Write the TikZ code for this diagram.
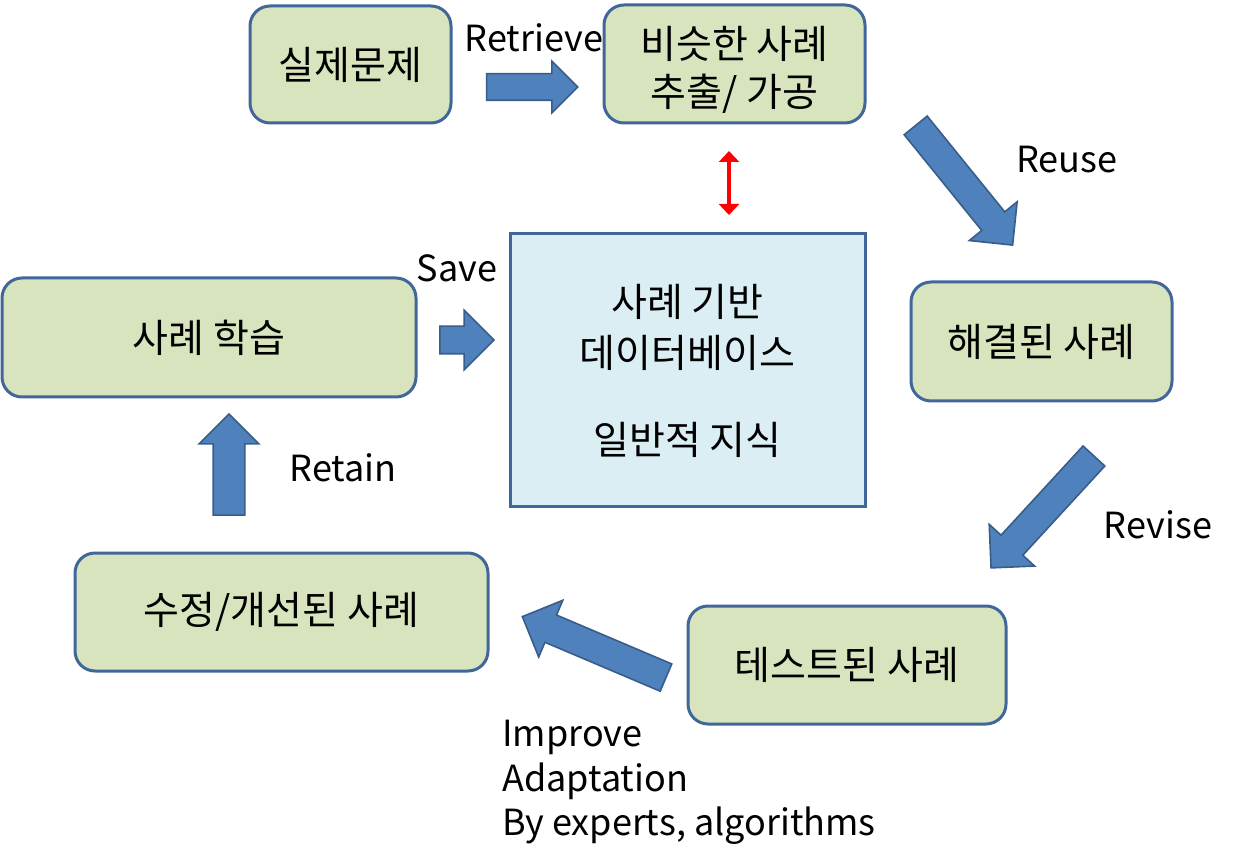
\documentclass[tikz,border=0pt]{standalone}
\usepackage{fontspec}
\setmainfont{Noto Sans CJK KR}
\usetikzlibrary{shapes.arrows,arrows.meta}
\definecolor{gfill}{HTML}{D7E4BD}
\definecolor{gline}{HTML}{41679A}
\definecolor{bfill}{HTML}{DBEEF4}
\definecolor{afill}{HTML}{4F81BD}
\definecolor{aline}{HTML}{385D8A}
\tikzset{
  gbox/.style={draw=gline, fill=gfill, line width=3pt, rounded corners=20pt, align=center, inner sep=0pt},
  dbbox/.style={draw=gline, fill=bfill, line width=3pt, align=center, inner sep=0pt},
  blk/.style={single arrow, draw=aline, fill=afill, line width=1.6pt, inner xsep=0pt, single arrow head indent=0pt},
  lbl/.style={inner sep=0pt, font=\fontsize{36}{45}\selectfont},
  txt/.style={font=\fontsize{39}{50}\selectfont}
}
\begin{document}
\begin{tikzpicture}[x=1pt,y=-1pt]
\useasboundingbox (0,0) rectangle (1235,866);
% boxes
\node[gbox, txt, minimum width=201pt, minimum height=117pt] (real) at (350.5,64.5) {실제문제};
\node[gbox, txt, minimum width=261pt, minimum height=118pt, font=\fontsize{39}{45}\selectfont] (sim) at (734.5,64) {\raisebox{-6pt}[\height][\depth]{\shortstack{비슷한 사례\\[9pt]추출/ 가공}}};
\node[gbox, txt, minimum width=261pt, minimum height=119pt] (solved) at (1041.5,341.5) {해결된 사례};
\node[gbox, txt, minimum width=318pt, minimum height=118pt] (tested) at (847,665) {테스트된 사례};
\node[gbox, txt, minimum width=413pt, minimum height=118pt] (revised) at (281.5,612) {수정/개선된 사례};
\node[gbox, txt, minimum width=414pt, minimum height=119pt] (learn) at (209,337.5) {사례 학습};
\node[dbbox, txt, minimum width=355pt, minimum height=273pt, font=\fontsize{39}{51}\selectfont] (db) at (687.5,370.5) {사례 기반\\데이터베이스\\[36pt]일반적 지식};
% block arrows
\node[blk, minimum height=91pt, inner ysep=12.5pt, single arrow head extend=12.5pt, minimum width=50pt] (aretrieve) at (525.5,87) {};
\node[blk, minimum height=154pt, inner ysep=14pt, single arrow head extend=16pt, minimum width=60pt, rotate=-51] (areuse) at (959.5,179.5) {};
\node[blk, minimum height=152pt, inner ysep=14pt, single arrow head extend=16pt, minimum width=60pt, rotate=-132.6] (arevise) at (1047.5,506.5) {};
\node[blk, minimum height=156pt, inner ysep=14pt, single arrow head extend=16pt, minimum width=60pt, rotate=157] (aimprove) at (601,650) {};
\node[blk, minimum height=101pt, inner ysep=15pt, single arrow head extend=14pt, minimum width=58pt, rotate=90] (aretain) at (229,472.5) {};
\node[blk, minimum height=54pt, inner ysep=13pt, single arrow head extend=16pt, minimum width=58pt] (asave) at (460,340) {};
% red double arrow
\coordinate (rtop) at (729,151);
\coordinate (rbot) at (729,215);
\draw[red, line width=4pt, {Triangle[length=11pt,width=20pt]}-{Triangle[length=11pt,width=20pt]}] (rtop) -- (rbot);
% labels
\node[lbl] (lretrieve) at (534,38) {Retrieve};
\node[lbl] (lreuse) at (1067,160) {Reuse};
\node[lbl] (lsave) at (457,268) {Save};
\node[lbl] (lrevise) at (1158,525) {Revise};
\node[lbl] (lretain) at (343,468) {Retain};
\node[lbl, anchor=base west] (limp1) at (502,746) {Improve};
\node[lbl, anchor=base west] (limp2) at (502,791) {Adaptation};
\node[lbl, anchor=base west] (limp3) at (502,835) {By experts, algorithms};
\end{tikzpicture}
\end{document}
